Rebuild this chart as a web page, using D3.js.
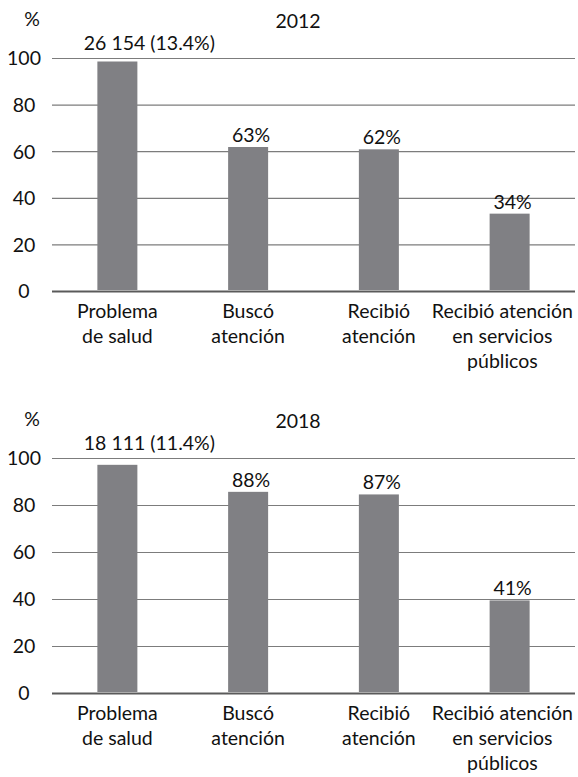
<!DOCTYPE html>
<html>
<head>
<meta charset="utf-8">
<script src="https://cdn.jsdelivr.net/npm/d3@7"></script>
<style>
  body { margin: 0; background: #fff; }
  text { font-family: Lato, "Open Sans", sans-serif; fill: #111; }
</style>
</head>
<body>
<script>
// chart values
var categories = ["Problema de salud", "Buscó atención", "Recibió atención", "Recibió atención en servicios públicos"];
var categoryLines = [["Problema", "de salud"], ["Buscó", "atención"], ["Recibió", "atención"], ["Recibió atención", "en servicios", "públicos"]];
var values2012 = [98.5, 61.8, 60.8, 33.2];
var labels2012 = ["26 154 (13.4%)", "63%", "62%", "34%"];
var values2018 = [97.1, 85.6, 84.5, 39.4];
var labels2018 = ["18 111 (11.4%)", "88%", "87%", "41%"];
var yTicks = [0, 20, 40, 60, 80, 100];

var W = 578, H = 777;
var left = 52, right = 575;
var fontSize = 19.5;

var svg = d3.select('body')
    .append('svg')
    .attr('width', W)
    .attr('height', H);

var x = d3.scaleBand()
    .domain(categories)
    .range([left, right])
    .paddingInner(0.694)
    .paddingOuter(0.347);

function drawPanel(y0, y100, year, values, labels) {
  var g = svg.append('g');

  var y = d3.scaleLinear()
      .domain([0, 100])
      .range([y0, y100]);

  // y axis with gridlines
  var yAxis = d3.axisLeft(y)
      .tickValues(yTicks)
      .tickSize(-(right - left))
      .tickPadding(0);

  var ax = g.append('g')
      .attr('transform', 'translate(' + left + ',0)')
      .call(yAxis);
  ax.select('.domain').remove();
  ax.selectAll('.tick line')
      .attr('stroke', function (d) { return d === 0 ? '#5a5a5a' : '#7c7c7c'; })
      .attr('stroke-width', function (d) { return d === 0 ? 2 : 1.2; });
  ax.selectAll('.tick text')
      .attr('x', -28)
      .attr('dy', '0.35em')
      .style('text-anchor', 'middle')
      .style('font-size', fontSize + 'px')
      .style('font-family', 'Lato, sans-serif')
      .attr('fill', '#111');

  // % unit and year title
  g.append('text')
      .attr('x', 32)
      .attr('y', y100 - 32)
      .style('text-anchor', 'middle')
      .style('font-size', fontSize + 'px')
      .text('%');

  g.append('text')
      .attr('x', 298)
      .attr('y', y100 - 30)
      .style('text-anchor', 'middle')
      .style('font-size', fontSize + 'px')
      .text(year);

  // bars
  g.selectAll('rect.bar')
      .data(values)
      .enter().append('rect')
      .attr('class', 'bar')
      .attr('x', function (d, i) { return x(categories[i]); })
      .attr('width', x.bandwidth())
      .attr('y', function (d) { return y(d); })
      .attr('height', function (d) { return y0 - y(d) - 1; })
      .attr('fill', '#808084');

  // value labels
  g.selectAll('text.val')
      .data(labels)
      .enter().append('text')
      .attr('class', 'val')
      .attr('x', function (d, i) { return x(categories[i]) + x.bandwidth() / 2 + (i === 0 ? 32 : 3); })
      .attr('y', function (d, i) { return i === 0 ? y(100) - 8 : y(values[i]) - 5; })
      .style('text-anchor', 'middle')
      .style('font-size', fontSize + 'px')
      .text(function (d) { return d; });

  // category labels
  var cat = g.selectAll('text.cat')
      .data(categoryLines)
      .enter().append('text')
      .attr('class', 'cat')
      .style('text-anchor', 'middle')
      .style('font-size', fontSize + 'px');

  cat.each(function (lines, i) {
    var t = d3.select(this);
    lines.forEach(function (line, j) {
      t.append('tspan')
          .attr('x', 0)
          .attr('y', y0 + 27 + j * 25)
          .text(line);
    });
    var w = this.getBBox().width;
    var cx = x(categories[i]) + x.bandwidth() / 2;
    cx = Math.min(cx, right - 2 - w / 2);
    t.selectAll('tspan').attr('x', cx);
  });
}

drawPanel(291, 58, '2012', values2012, labels2012);
drawPanel(693, 458, '2018', values2018, labels2018);
</script>
</body>
</html>
